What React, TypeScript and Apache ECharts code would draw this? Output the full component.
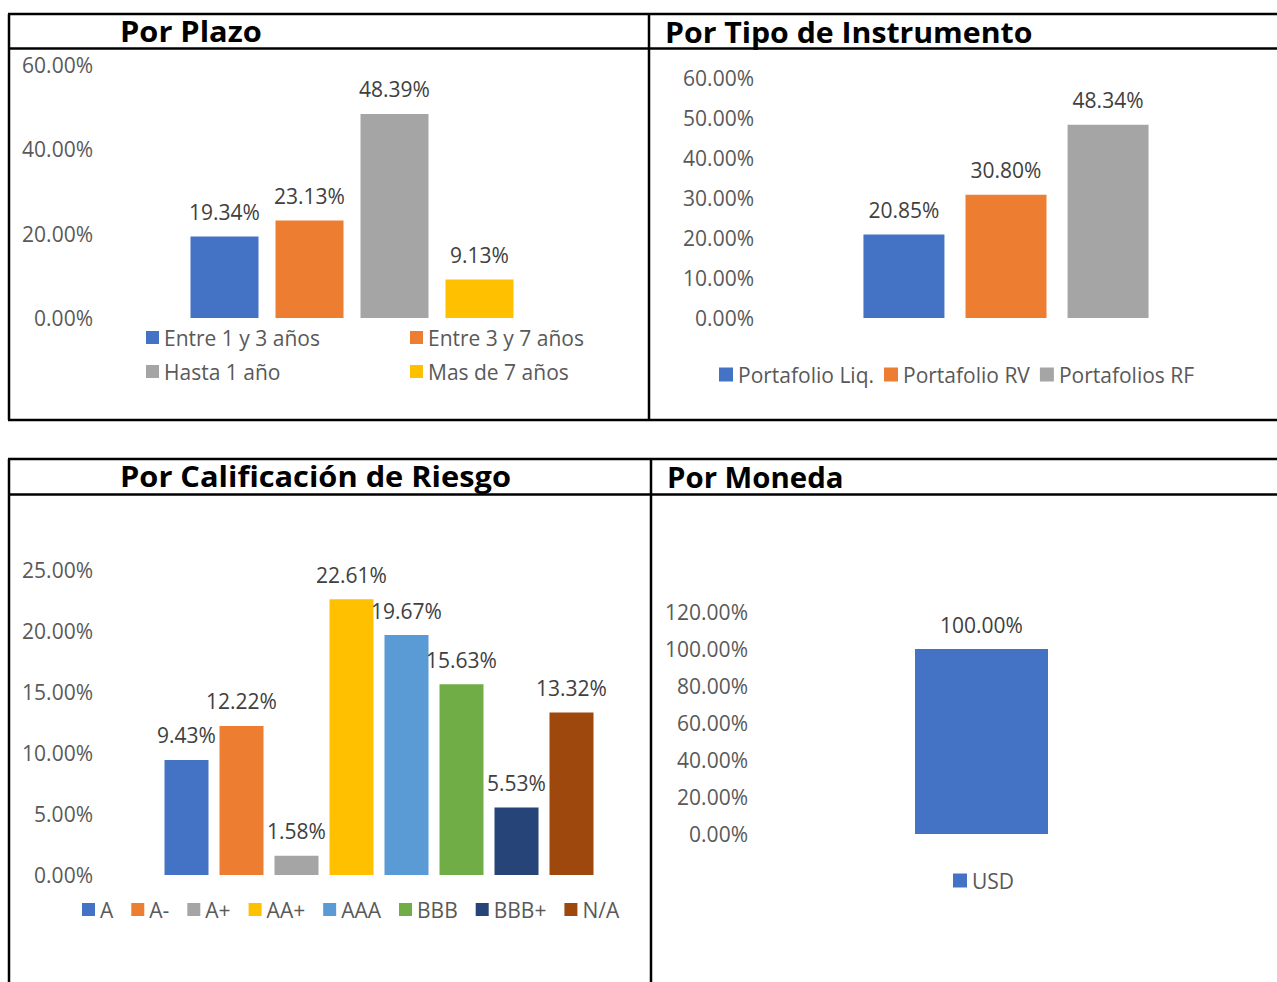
import React, { useEffect, useRef } from "react";
import * as echarts from "echarts";

// ---------- data ----------
const plazoCategories = ["Entre 1 y 3 años", "Entre 3 y 7 años", "Hasta 1 año", "Mas de 7 años"];
const plazoValues = [19.34, 23.13, 48.39, 9.13];

const instrumentoCategories = ["Portafolio Liq.", "Portafolio RV", "Portafolios RF"];
const instrumentoValues = [20.85, 30.8, 48.34];

const calificacionCategories = ["A", "A-", "A+", "AA+", "AAA", "BBB", "BBB+", "N/A"];
const calificacionValues = [9.43, 12.22, 1.58, 22.61, 19.67, 15.63, 5.53, 13.32];

const monedaCategories = ["USD"];
const monedaValues = [100];

const panelTitles = ["Por Plazo", "Por Tipo de Instrumento", "Por Calificación de Riesgo", "Por Moneda"];

// ---------- styles ----------
const palette = ["#4472C4", "#ED7D31", "#A5A5A5", "#FFC000", "#5B9BD5", "#70AD47", "#264478", "#9E480E"];
const FONT = "'Open Sans', sans-serif";
const AXIS_COLOR = "#595959";
const LABEL_COLOR = "#404040";
const FS = 21;

const pct = (v: number) => v.toFixed(2) + "%";

function App() {
  const ref = useRef<HTMLDivElement>(null);

  useEffect(() => {
    if (!ref.current) return;
    const chart = echarts.init(ref.current, null, { renderer: "svg" });

    const grids = [
      { left: 101, top: 65, width: 502, height: 253 },
      { left: 762, top: 78, width: 488, height: 240 },
      { left: 101, top: 570, width: 556, height: 305 },
      { left: 756, top: 612, width: 451, height: 222 },
    ];
    const yScales = [
      { min: 0, max: 60, interval: 20 },
      { min: 0, max: 60, interval: 10 },
      { min: 0, max: 25, interval: 5 },
      { min: 0, max: 120, interval: 20 },
    ];
    const barWidths = [68, 81, 44, 133];
    const groups = [
      { cats: plazoCategories, vals: plazoValues },
      { cats: instrumentoCategories, vals: instrumentoValues },
      { cats: calificacionCategories, vals: calificacionValues },
      { cats: monedaCategories, vals: monedaValues },
    ];

    const series: any[] = [];
    groups.forEach((g, gi) => {
      g.cats.forEach((name, i) => {
        series.push({
          type: "bar",
          name,
          xAxisIndex: gi,
          yAxisIndex: gi,
          data: [g.vals[i]],
          barWidth: barWidths[gi],
          barGap: gi === 1 ? "26%" : "25%",
          itemStyle: { color: palette[i] },
          label: {
            show: true,
            position: "top",
            distance: 14,
            formatter: (p: any) => pct(p.value),
            fontFamily: FONT,
            fontSize: FS,
            color: LABEL_COLOR,
          },
        });
      });
    });

    const legendText = { fontFamily: FONT, fontSize: FS, color: AXIS_COLOR, lineHeight: 20 };
    const legendBase = {
      icon: "rect",
      itemWidth: 13,
      itemHeight: 13,
      selectedMode: false,
      padding: 0,
      textStyle: legendText,
    };

    const lines: any[] = [];
    const L = (x1: number, y1: number, x2: number, y2: number) =>
      lines.push({
        type: "line",
        shape: { x1, y1, x2, y2 },
        style: { stroke: "#000", lineWidth: 2.5 },
        silent: true,
      });
    // top table
    L(8, 14, 1277, 14);
    L(8, 48.5, 1277, 48.5);
    L(8, 420, 1277, 420);
    L(9, 14, 9, 420);
    L(649, 14, 649, 420);
    // bottom table
    L(8, 459, 1277, 459);
    L(8, 494.5, 1277, 494.5);
    L(9, 459, 9, 982);
    L(651, 459, 651, 982);

    const titlePos = [
      [120, 32],
      [665, 32],
      [120, 477],
      [667, 477],
    ];
    const titleScale = [1.1, 1.08, 1.1, 1.05];
    const titles = panelTitles.map((t, i) => ({
      type: "text",
      x: titlePos[i][0],
      y: titlePos[i][1],
      scaleX: titleScale[i],
      style: {
        text: t,
        fontFamily: FONT,
        fontWeight: "bold",
        fontSize: 28,
        fill: "#000",
        verticalAlign: "middle",
        align: "left",
      },
    }));

    chart.setOption({
      animation: false,
      grid: grids,
      xAxis: grids.map((_, i) => ({ type: "category", gridIndex: i, data: [""], show: false })),
      yAxis: yScales.map((s, i) => ({
        type: "value",
        gridIndex: i,
        min: s.min,
        max: s.max,
        interval: s.interval,
        axisLine: { show: false },
        axisTick: { show: false },
        splitLine: { show: false },
        axisLabel: {
          formatter: (v: number) => pct(v),
          fontFamily: FONT,
          fontSize: FS,
          color: AXIS_COLOR,
          margin: 8,
        },
      })),
      legend: [
        { ...legendBase, orient: "vertical", left: 146, top: 327, itemGap: 13, data: [plazoCategories[0], plazoCategories[2]] },
        { ...legendBase, orient: "vertical", left: 410, top: 327, itemGap: 13, data: [plazoCategories[1], plazoCategories[3]] },
        { ...legendBase, itemWidth: 14, itemHeight: 14, left: 719, top: 364, itemGap: 10, data: instrumentoCategories },
        { ...legendBase, left: 82, top: 899, itemGap: 18, data: calificacionCategories },
        { ...legendBase, itemWidth: 14, itemHeight: 14, left: 953, top: 870, data: monedaCategories },
      ],
      series,
      graphic: [...lines, ...titles],
    });

    return () => chart.dispose();
  }, []);

  return (
    <div
      ref={ref}
      style={{ position: "fixed", left: 0, top: 0, width: 1277, height: 982, background: "#fff" }}
    />
  );
}

export default App;
